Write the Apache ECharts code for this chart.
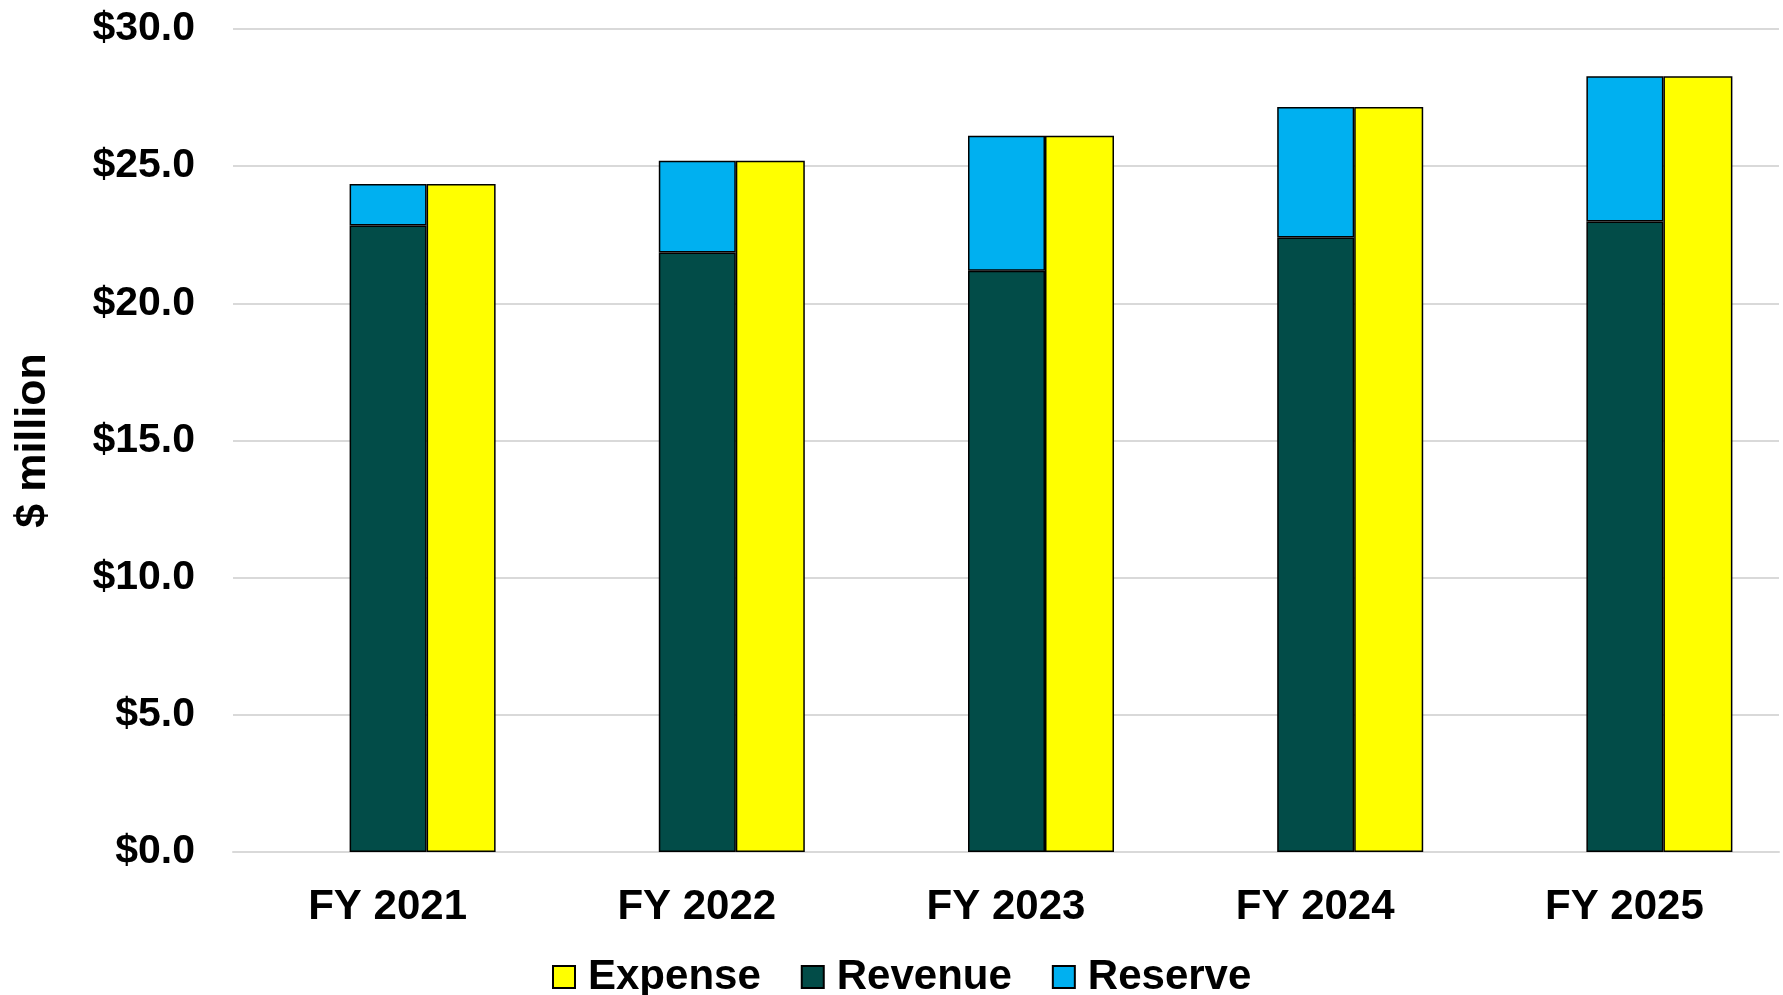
<!DOCTYPE html>
<html>
<head>
<meta charset="utf-8">
<script src="https://cdn.jsdelivr.net/npm/echarts@6/dist/echarts.min.js"></script>
<style>
html,body{margin:0;padding:0;background:#fff;}
#chart{width:1783px;height:995px;}
</style>
</head>
<body>
<div id="chart"></div>
<script>
const categories = ['FY 2021', 'FY 2022', 'FY 2023', 'FY 2024', 'FY 2025'];
const revenue = [22.84, 21.85, 21.19, 22.40, 22.98];
const reserve = [1.51, 3.35, 4.92, 4.76, 5.30];
const expense = [24.35, 25.20, 26.11, 27.16, 28.28];
const placeholder = [null, null, null, null, null];

const FONT = '"Liberation Sans", Arial, sans-serif';
const border = { borderColor: '#000', borderWidth: 1.5 };

const chart = echarts.init(document.getElementById('chart'));
chart.setOption({
  animation: false,
  backgroundColor: '#fff',
  textStyle: { fontFamily: FONT },
  grid: { left: 233, right: 4, top: 29, bottom: 143, containLabel: false },
  legend: {
    data: ['Expense', 'Revenue', 'Reserve'],
    left: 552,
    top: 956,
    padding: 0,
    itemWidth: 22,
    itemHeight: 22,
    itemGap: 40,
    icon: 'rect',
    textStyle: { fontFamily: FONT, fontSize: 42, fontWeight: 'bold', color: '#000', padding: [0, 0, 0, 8] }
  },
  xAxis: {
    type: 'category',
    data: categories,
    axisTick: { show: false },
    axisLine: { lineStyle: { color: '#d9d9d9', width: 2 } },
    axisLabel: { fontFamily: FONT, fontSize: 42, fontWeight: 'bold', color: '#000', margin: 34 }
  },
  yAxis: {
    type: 'value',
    min: 0, max: 30, interval: 5,
    name: '$ million',
    nameLocation: 'middle',
    nameRotate: 90,
    nameGap: 178,
    nameTextStyle: { fontFamily: FONT, fontSize: 43, fontWeight: 'bold', color: '#000' },
    axisLine: { show: false },
    axisTick: { show: false },
    splitLine: { lineStyle: { color: '#d9d9d9', width: 2 } },
    axisLabel: {
      fontFamily: FONT, fontSize: 41, fontWeight: 'bold', color: '#000', margin: 38,
      formatter: v => '$' + v.toFixed(1)
    }
  },
  series: [
    { name: 'gap', type: 'bar', data: placeholder, barWidth: 70, barGap: '0%', silent: true },
    { name: 'Revenue', type: 'bar', stack: 'funds', data: revenue, barWidth: 77, barGap: '0%',
      itemStyle: Object.assign({ color: '#024C48' }, border) },
    { name: 'Reserve', type: 'bar', stack: 'funds', data: reserve, barWidth: 77, barGap: '0%',
      itemStyle: Object.assign({ color: '#00B0F0' }, border) },
    { name: 'Expense', type: 'bar', data: expense, barWidth: 69, barGap: '0%',
      itemStyle: Object.assign({ color: '#FFFF00' }, border) }
  ]
});
</script>
</body>
</html>
